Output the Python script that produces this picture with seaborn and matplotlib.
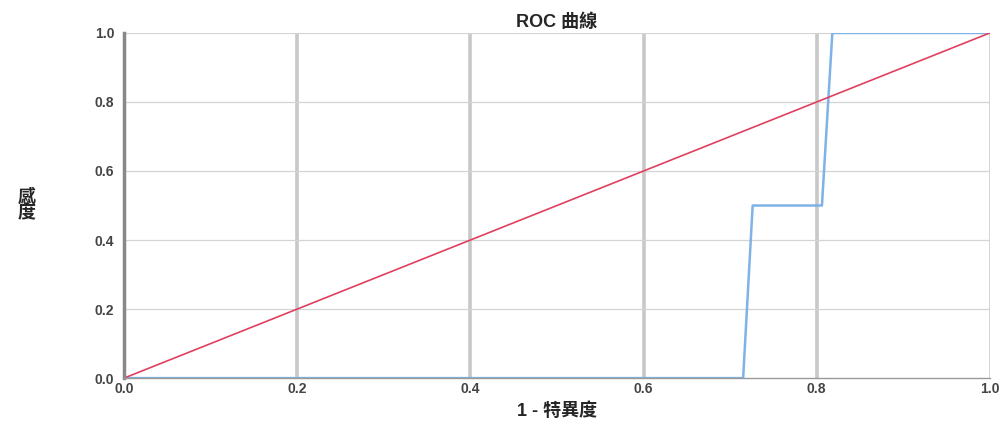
import numpy as np
import pandas as pd
import matplotlib
matplotlib.use("Agg")
import matplotlib.pyplot as plt
import seaborn as sns

# ROC curve points
fpr = [0.0, 0.715, 0.726, 0.806, 0.818, 1.0]
tpr = [0.0, 0.0, 0.5, 0.5, 1.0, 1.0]
ref_x = [0.0, 1.0]
ref_y = [0.0, 1.0]
ticks = [0.0, 0.2, 0.4, 0.6, 0.8, 1.0]

BLUE, RED = "#7FB2E6", "#E0405F"

sns.set_theme(style="white")
plt.rcParams["font.family"] = ["Liberation Sans", "Noto Sans CJK TC", "DejaVu Sans"]

roc = pd.DataFrame({"x": fpr, "y": tpr})
ref = pd.DataFrame({"x": ref_x, "y": ref_y})

fig = plt.figure(figsize=(10.05, 4.22), dpi=100)
ax = fig.add_axes([0.1234, 0.104, 0.8616, 0.818])

# grid: thick grey verticals, thin horizontals
for t in ticks[1:-1]:
    ax.axvline(t, color="#c8c8c8", linewidth=2.6, zorder=0)
for t in ticks[1:]:
    ax.axhline(t, color="#d4d4d4", linewidth=0.9, zorder=0)
ax.axvline(1.0, color="#d0d0d0", linewidth=2.0, zorder=0)

sns.lineplot(data=roc, x="x", y="y", ax=ax, color=BLUE, linewidth=1.8,
             estimator=None, sort=False)
sns.lineplot(data=ref, x="x", y="y", ax=ax, color=RED, linewidth=1.2,
             estimator=None, sort=False)

ax.set_xlim(0, 1)
ax.set_ylim(0, 1)
ax.set_xticks(ticks)
ax.set_yticks(ticks)
ax.set_xticklabels([f"{t:.1f}" for t in ticks])
ax.set_yticklabels([f"{t:.1f}" for t in ticks])
ax.tick_params(axis="both", length=0, labelsize=10, labelcolor="#444444")
ax.tick_params(axis="x", pad=3)
ax.tick_params(axis="y", pad=7)
for lab in ax.get_xticklabels() + ax.get_yticklabels():
    lab.set_fontweight("bold")

for side in ["top", "right"]:
    ax.spines[side].set_visible(False)
ax.spines["left"].set_color("#888888")
ax.spines["left"].set_linewidth(2.5)
ax.spines["bottom"].set_color("#999999")
ax.spines["bottom"].set_linewidth(1.0)

ax.set_title("ROC 曲線", fontsize=13, fontweight="bold", pad=4)
ax.set_xlabel("1 - 特異度", fontsize=13, fontweight="bold", labelpad=4)
ax.set_ylabel("感\n度", fontsize=13, fontweight="bold", rotation=0,
              labelpad=0, linespacing=1.0)
ax.yaxis.set_label_coords(-0.112, 0.45)

fig.savefig("out.png", dpi=100)
